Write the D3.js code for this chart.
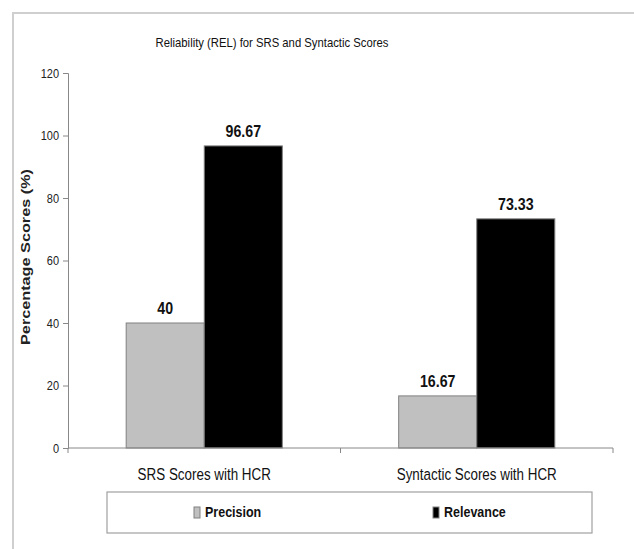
<!DOCTYPE html>
<html><head><meta charset="utf-8">
<script src="https://cdn.jsdelivr.net/npm/d3@7"></script>
<style>body{margin:0;background:#fff}svg{display:block}text{font-family:"Liberation Sans",Arial,sans-serif}</style>
</head><body>
<script>
const categories = ["SRS Scores with HCR", "Syntactic Scores with HCR"];
const seriesNames = ["Precision", "Relevance"];
const precision = [40, 16.67];
const relevance = [96.67, 73.33];
const valueLabels = [["40", "96.67"], ["16.67", "73.33"]];
const yTicks = [0, 20, 40, 60, 80, 100, 120];
const colors = ["#c0c0c0", "#000000"];

const W = 634, H = 549, SY = 1.2;
const svg = d3.select("body").append("svg").attr("width", W).attr("height", H);
svg.append("rect").attr("width", W).attr("height", H).attr("fill", "#fff");

// outer frame (cropped on right/bottom)
svg.append("path").attr("d", `M13,${H} L13,13 L${W},13`).attr("fill", "none").attr("stroke", "#cfcfcf").attr("stroke-width", 2);

function stxt(g, x, y, str, size, weight, anchor) {
  return g.append("text").attr("transform", `translate(${x},${y}) scale(1,${SY})`)
    .attr("text-anchor", anchor || "middle").attr("font-size", size).attr("font-weight", weight || "normal")
    .attr("fill", "#111").text(str);
}

stxt(svg, 272, 47, "Reliability (REL) for SRS and Syntactic Scores", 11.3, "normal");

const x0 = d3.scaleBand().domain(categories).range([68, 613]).paddingInner(0.427).paddingOuter(0.2135);
const x1 = d3.scaleBand().domain(seriesNames).range([0, x0.bandwidth()]);
const y = d3.scaleLinear().domain([0, 120]).range([448, 73]);

// y axis
const yAx = svg.append("g").attr("transform", "translate(68,0)")
  .call(d3.axisLeft(y).tickValues(yTicks).tickSize(5).tickPadding(4).tickFormat(d3.format("d")));
yAx.select(".domain").attr("stroke", "#888");
yAx.selectAll(".tick line").attr("stroke", "#888");
yAx.selectAll(".tick text").attr("font-size", 11).attr("fill", "#222")
  .attr("dy", null).attr("y", 0)
  .attr("transform", `scale(1,${SY})`)
  .attr("dominant-baseline", "central");
// fix scaled label positions: text inside tick group is at tick's own translate, so scale about origin is fine

// y title
svg.append("text").attr("transform", `translate(30,257) scale(1,1.3) rotate(-90)`)
  .attr("text-anchor", "middle").attr("font-size", 12.5).attr("font-weight", "bold").attr("fill", "#222")
  .text("Percentage Scores (%)");

// bars
const data = categories.map((c, i) => ({cat: c, vals: [precision[i], relevance[i]], labels: valueLabels[i]}));
const grp = svg.selectAll("g.grp").data(data).enter().append("g").attr("class", "grp")
  .attr("transform", d => `translate(${x0(d.cat)},0)`);
grp.selectAll("rect").data(d => d.vals.map((v, j) => ({v, s: seriesNames[j], j}))).enter().append("rect")
  .attr("x", d => x1(d.s)).attr("width", x1.bandwidth())
  .attr("y", d => y(d.v)).attr("height", d => y(0) - y(d.v))
  .attr("fill", d => colors[d.j]).attr("stroke", "#808080").attr("stroke-width", 1);
grp.each(function(d) {
  const g = d3.select(this);
  d.vals.forEach((v, j) => {
    stxt(g, x1(seriesNames[j]) + x1.bandwidth() / 2, y(v) - 9, d.labels[j], 14.2, "bold");
  });
});

// x axis
const xAx = svg.append("g").attr("transform", "translate(0,448)");
xAx.append("line").attr("x1", 68).attr("x2", 613).attr("stroke", "#888");
[68, 68 + x0.step(), 613].forEach(t => xAx.append("line").attr("x1", t).attr("x2", t).attr("y1", 0).attr("y2", 5).attr("stroke", "#888"));
categories.forEach(c => stxt(svg, x0(c) + x0.bandwidth() / 2, 480, c, 13.4, "normal"));

// legend
svg.append("rect").attr("x", 107).attr("y", 492).attr("width", 485).attr("height", 41)
  .attr("fill", "#fff").attr("stroke", "#a0a0a0").attr("stroke-width", 1.2);
const legX = [194, 433];
seriesNames.forEach((s, j) => {
  svg.append("rect").attr("x", legX[j]).attr("y", 507).attr("width", 6).attr("height", 11)
    .attr("fill", colors[j]).attr("stroke", "#808080").attr("stroke-width", 1);
  stxt(svg, legX[j] + 11, 517, s, 12.5, "bold", "start");
});
</script>
</body></html>
